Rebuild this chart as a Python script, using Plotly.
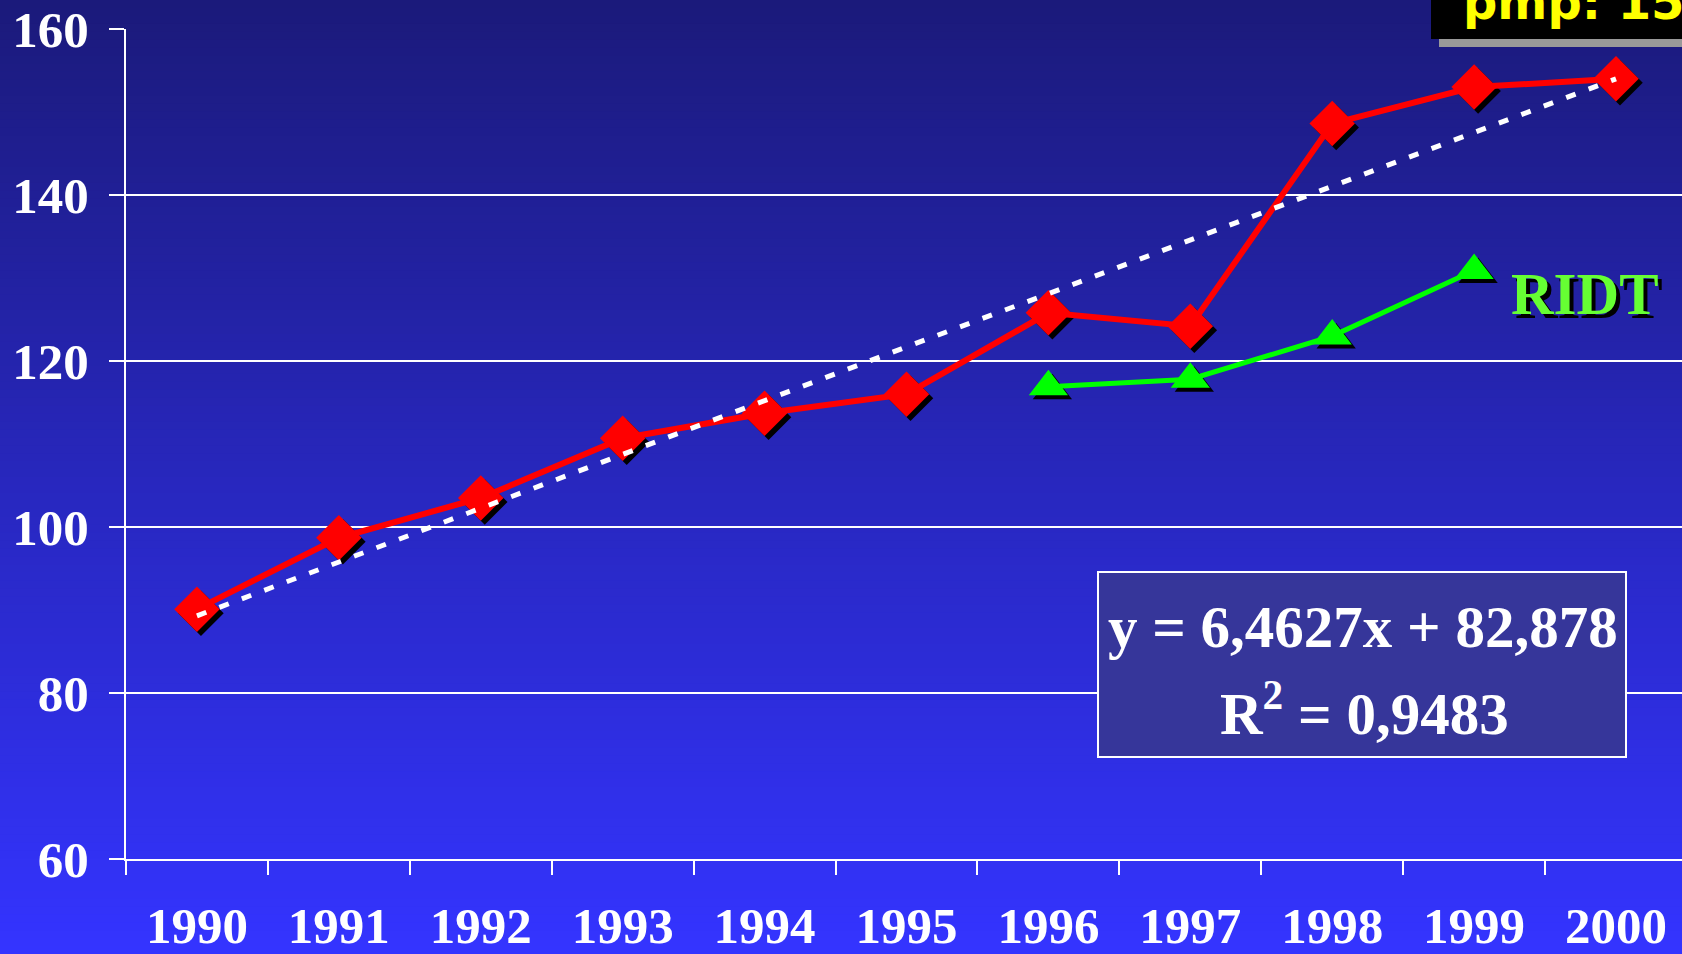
import plotly.graph_objects as go

years = ["1990", "1991", "1992", "1993", "1994", "1995", "1996", "1997", "1998", "1999", "2000"]
main_vals = [90.1, 98.7, 103.5, 110.7, 113.7, 116.0, 125.8, 124.2, 148.6, 153.0, 154.0]
ridt_years_idx = [6, 7, 8, 9]
ridt_vals = [116.9, 117.8, 123.0, 130.9]
trend_vals = [89.3, 95.8, 102.3, 108.7, 115.2, 121.7, 128.1, 134.6, 141.0, 147.5, 154.0]
y_ticks = [60, 80, 100, 120, 140, 160]
eq_line1 = "y = 6,4627x + 82,878"
eq_line2 = "R<sup>2</sup> = 0,9483"
ridt_label = "RIDT"
corner_label = "pmp: 15"

W, H = 1682, 954
L, R, T, B = 126, 0, 29, 95
PW, PH = W - L - R, H - T - B
X_RANGE = [-0.5, 10.465]
Y_RANGE = [60, 160]

def px_x(px):
    return (px - L) / PW

def px_y(py):
    return (H - B - py) / PH

x_idx = list(range(len(years)))
ux = PW / (X_RANGE[1] - X_RANGE[0])
uy = PH / (Y_RANGE[1] - Y_RANGE[0])
sdx, sdy = 4 / ux, 4 / uy

fig = go.Figure()

fig.add_trace(go.Scatter(x=[v + sdx for v in x_idx], y=[v - sdy for v in main_vals], mode="markers",
                         marker=dict(symbol="diamond", size=35, color="black"), hoverinfo="skip", showlegend=False))
fig.add_trace(go.Scatter(x=x_idx, y=main_vals, mode="lines+markers",
                         line=dict(color="#ff0000", width=6),
                         marker=dict(symbol="diamond", size=35, color="#ff0000"), showlegend=False))
fig.add_trace(go.Scatter(x=[v + sdx for v in ridt_years_idx], y=[v - sdy for v in ridt_vals], mode="markers",
                         marker=dict(symbol="triangle-up", size=34, color="black"), hoverinfo="skip", showlegend=False))
fig.add_trace(go.Scatter(x=ridt_years_idx, y=ridt_vals, mode="lines+markers",
                         line=dict(color="#00ff00", width=5),
                         marker=dict(symbol="triangle-up", size=34, color="#00ff00"), showlegend=False))
fig.add_trace(go.Scatter(x=x_idx, y=trend_vals, mode="lines",
                         line=dict(color="white", width=5, dash="10px,14px"), showlegend=False))
fig.add_trace(go.Scatter(x=[0], y=[100], xaxis="x2", mode="markers", marker=dict(opacity=0),
                         hoverinfo="skip", showlegend=False))

shapes = []
n = 120
top = (27, 26, 123)
bot = (52, 52, 255)
for i in range(n):
    t = i / (n - 1)
    c = tuple(round(top[k] + (bot[k] - top[k]) * t) for k in range(3))
    y0 = i * H / n
    y1 = (i + 1) * H / n + 1
    shapes.append(dict(type="rect", xref="paper", yref="paper", layer="below",
                       x0=px_x(-5), x1=px_x(W + 5), y0=px_y(y1), y1=px_y(y0),
                       line=dict(width=0), fillcolor="rgb(%d,%d,%d)" % c))
shapes.append(dict(type="rect", xref="paper", yref="paper", layer="above",
                   x0=px_x(1098), x1=px_x(1626), y0=px_y(757), y1=px_y(572),
                   line=dict(color="white", width=2), fillcolor="#36369a"))
shapes.append(dict(type="rect", xref="paper", yref="paper", layer="above",
                   x0=px_x(1439), x1=px_x(W + 10), y0=px_y(47), y1=px_y(8),
                   line=dict(width=0), fillcolor="#999999"))
shapes.append(dict(type="rect", xref="paper", yref="paper", layer="above",
                   x0=px_x(1431), x1=px_x(W + 10), y0=px_y(39), y1=px_y(-10),
                   line=dict(width=0), fillcolor="black"))

serif = "Liberation Serif"
annotations = [
    dict(text="<b>%s</b>" % eq_line1, x=px_x(1363), y=px_y(627), xref="paper", yref="paper",
         showarrow=False, xanchor="center", yanchor="middle", font=dict(family=serif, size=59, color="white")),
    dict(text="<b>%s</b>" % eq_line2, x=px_x(1364), y=px_y(709), xref="paper", yref="paper",
         showarrow=False, xanchor="center", yanchor="middle", font=dict(family=serif, size=59, color="white")),
    dict(text="<b>%s</b>" % ridt_label, x=px_x(1589), y=px_y(298), xref="paper", yref="paper",
         showarrow=False, xanchor="center", yanchor="middle", font=dict(family=serif, size=59, color="black")),
    dict(text="<b>%s</b>" % ridt_label, x=px_x(1585), y=px_y(294), xref="paper", yref="paper",
         showarrow=False, xanchor="center", yanchor="middle", font=dict(family=serif, size=59, color="#66ff33")),
    dict(text="<b>%s</b>" % corner_label, x=px_x(1461), y=px_y(2), xref="paper", yref="paper",
         showarrow=False, xanchor="left", yanchor="middle", font=dict(family="DejaVu Sans", size=48, color="#ffff00")),
]

fig.update_layout(
    width=W, height=H,
    margin=dict(l=L, r=R, t=T, b=B, pad=0, autoexpand=False),
    paper_bgcolor="#2828c0",
    plot_bgcolor="rgba(0,0,0,0)",
    shapes=shapes,
    annotations=annotations,
    xaxis=dict(range=X_RANGE, tickvals=x_idx, ticktext=years, ticks="", showgrid=False, zeroline=False,
               showline=True, linecolor="white", linewidth=2, automargin=False,
               tickfont=dict(family=serif, size=51, color="white", weight="bold"), ticklabelstandoff=21),
    xaxis2=dict(range=X_RANGE, overlaying="x", anchor="y", side="bottom", automargin=False,
                tickvals=[v - 0.5 for v in x_idx], ticks="outside", ticklen=15, tickwidth=2, tickcolor="white",
                showticklabels=False, showgrid=False, zeroline=False, showline=False),
    yaxis=dict(range=Y_RANGE, tickvals=y_ticks, ticks="outside", ticklen=15, tickwidth=2, tickcolor="white",
               showgrid=True, gridcolor="white", gridwidth=2, zeroline=False, automargin=False,
               showline=True, linecolor="white", linewidth=2,
               tickfont=dict(family=serif, size=51, color="white", weight="bold"), ticklabelstandoff=10),
)

fig.write_html("out.html", config={"displayModeBar": False},
               post_script="document.body.style.margin='0';document.body.style.overflow='hidden';")
